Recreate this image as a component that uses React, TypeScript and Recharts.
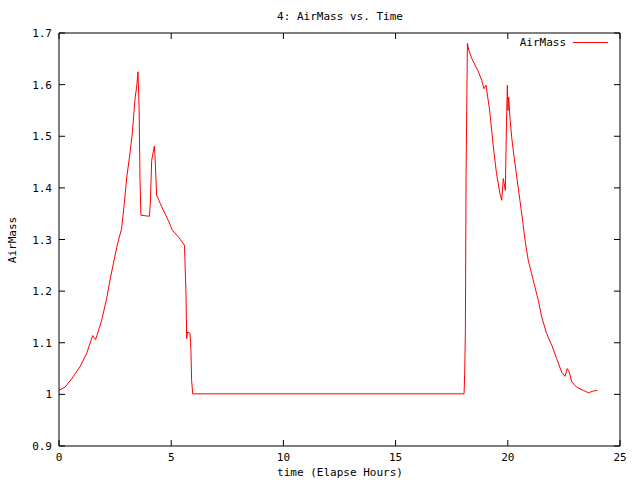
import { Line, LineChart, XAxis, YAxis } from "recharts";

const times = [
  0, 0.27, 0.56, 0.94, 1.23, 1.5, 1.63, 1.9, 2.12, 2.27, 2.42, 2.61, 2.79, 2.91, 3.02, 3.16,
  3.27, 3.39, 3.46, 3.52, 3.57, 3.61, 3.65, 4.03, 4.07, 4.13, 4.2, 4.25, 4.28, 4.35, 4.58,
  4.87, 5.05, 5.32, 5.59, 5.66, 5.69, 5.73, 5.84, 5.88, 5.91, 5.96,
  18.05, 18.08, 18.11, 18.14, 18.2, 18.26, 18.39, 18.54, 18.69, 18.84, 18.94, 19.03, 19.06,
  19.18, 19.28, 19.39, 19.5, 19.65, 19.73, 19.8, 19.84, 19.89, 19.91, 19.95, 19.98, 20.01,
  20.04, 20.1, 20.17, 20.28, 20.4, 20.54, 20.66, 20.77, 20.91, 21.06, 21.21, 21.36, 21.51,
  21.73, 21.96, 22.18, 22.4, 22.55, 22.65, 22.74, 22.85, 23.07, 23.36, 23.59, 23.78, 23.99,
];

const airMass = [
  1.008, 1.014, 1.03, 1.054, 1.079, 1.114, 1.106, 1.143, 1.185, 1.221, 1.253, 1.292, 1.321,
  1.37, 1.421, 1.466, 1.508, 1.573, 1.596, 1.625, 1.554, 1.418, 1.347, 1.345, 1.37, 1.453,
  1.47, 1.481, 1.46, 1.386, 1.363, 1.337, 1.318, 1.305, 1.289, 1.195, 1.108, 1.121, 1.118,
  1.085, 1.027, 1.001,
  1.001, 1.041, 1.124, 1.424, 1.68, 1.667, 1.651, 1.638, 1.625, 1.608, 1.592, 1.599, 1.589,
  1.554, 1.512, 1.466, 1.427, 1.389, 1.376, 1.418, 1.408, 1.395, 1.447, 1.544, 1.599, 1.55,
  1.576, 1.534, 1.499, 1.46, 1.421, 1.376, 1.337, 1.298, 1.26, 1.234, 1.208, 1.182, 1.15,
  1.118, 1.095, 1.069, 1.043, 1.035, 1.05, 1.043, 1.024, 1.014, 1.008, 1.003, 1.006, 1.008,
];

const xTicks = [0, 5, 10, 15, 20, 25];
const yTicks = [0.9, 1.0, 1.1, 1.2, 1.3, 1.4, 1.5, 1.6, 1.7];

const data = times.map((t, i) => ({ t, airMass: airMass[i] }));

const FONT = "'DejaVu Sans Mono', monospace";
const TICK = 6;

const fmtY = (v: number) => String(Math.round(v * 10) / 10);

function BottomTick({ x, y, payload }: any) {
  return (
    <g>
      <line x1={x} x2={x} y1={y} y2={y - TICK} stroke="#000" />
      <text x={x} y={y + 15} textAnchor="middle" fontSize={11} fontFamily={FONT} fill="#000">
        {payload.value}
      </text>
    </g>
  );
}

function TopTick({ x, y }: any) {
  return <line x1={x} x2={x} y1={y} y2={y + TICK} stroke="#000" />;
}

function LeftTick({ x, y, payload }: any) {
  return (
    <g>
      <line x1={x} x2={x + TICK} y1={y} y2={y} stroke="#000" />
      <text x={x - 7} y={y + 4} textAnchor="end" fontSize={11} fontFamily={FONT} fill="#000">
        {fmtY(payload.value)}
      </text>
    </g>
  );
}

function RightTick({ x, y }: any) {
  return <line x1={x} x2={x - TICK} y1={y} y2={y} stroke="#000" />;
}

const textStyle = {
  position: "absolute" as const,
  fontFamily: FONT,
  fontSize: 11,
  color: "#000",
  whiteSpace: "nowrap" as const,
  lineHeight: "13px",
};

export default function App() {
  return (
    <div style={{ position: "absolute", left: 0, top: 0, width: 640, height: 480, background: "#fff" }}>
      <LineChart
        width={640}
        height={480}
        data={data}
        margin={{ top: 32, right: 19, left: 0, bottom: 0 }}
      >
        <XAxis
          dataKey="t"
          type="number"
          domain={[0, 25]}
          ticks={xTicks}
          height={34}
          tickSize={0}
          tickMargin={0}
          tickLine={false}
          axisLine={{ stroke: "#000" }}
          tick={<BottomTick />}
          interval={0}
        />
        <XAxis
          xAxisId="top"
          dataKey="t"
          orientation="top"
          type="number"
          domain={[0, 25]}
          ticks={xTicks}
          height={1}
          tickSize={0}
          tickMargin={0}
          tickLine={false}
          axisLine={{ stroke: "#000" }}
          tick={<TopTick />}
          interval={0}
        />
        <YAxis
          type="number"
          domain={[0.9, 1.7]}
          ticks={yTicks}
          width={59}
          tickSize={0}
          tickMargin={0}
          tickLine={false}
          axisLine={{ stroke: "#000" }}
          tick={<LeftTick />}
          interval={0}
        />
        <YAxis
          yAxisId="right"
          orientation="right"
          type="number"
          domain={[0.9, 1.7]}
          ticks={yTicks}
          width={1}
          tickSize={0}
          tickMargin={0}
          tickLine={false}
          axisLine={{ stroke: "#000" }}
          tick={<RightTick />}
          interval={0}
        />
        <Line
          type="linear"
          dataKey="airMass"
          name="AirMass"
          stroke="#ff0000"
          strokeWidth={1}
          dot={false}
          activeDot={false}
          isAnimationActive={false}
        />
        <Line
          xAxisId="top"
          yAxisId="right"
          type="linear"
          dataKey="airMass"
          stroke="none"
          strokeWidth={0}
          dot={false}
          activeDot={false}
          legendType="none"
          isAnimationActive={false}
        />
      </LineChart>
      <div style={{ ...textStyle, left: 340, top: 10, transform: "translateX(-50%)" }}>
        4: AirMass vs. Time
      </div>
      <div style={{ ...textStyle, left: 340, top: 466, transform: "translateX(-50%)" }}>
        time (Elapse Hours)
      </div>
      <div
        style={{
          ...textStyle,
          left: 12,
          top: 240,
          transform: "translate(-50%, -50%) rotate(-90deg)",
        }}
      >
        AirMass
      </div>
      <div style={{ ...textStyle, left: 566, top: 36, transform: "translateX(-100%)" }}>AirMass</div>
      <div style={{ position: "absolute", left: 573, top: 42, width: 35, height: 1, background: "#ff0000" }} />
    </div>
  );
}
